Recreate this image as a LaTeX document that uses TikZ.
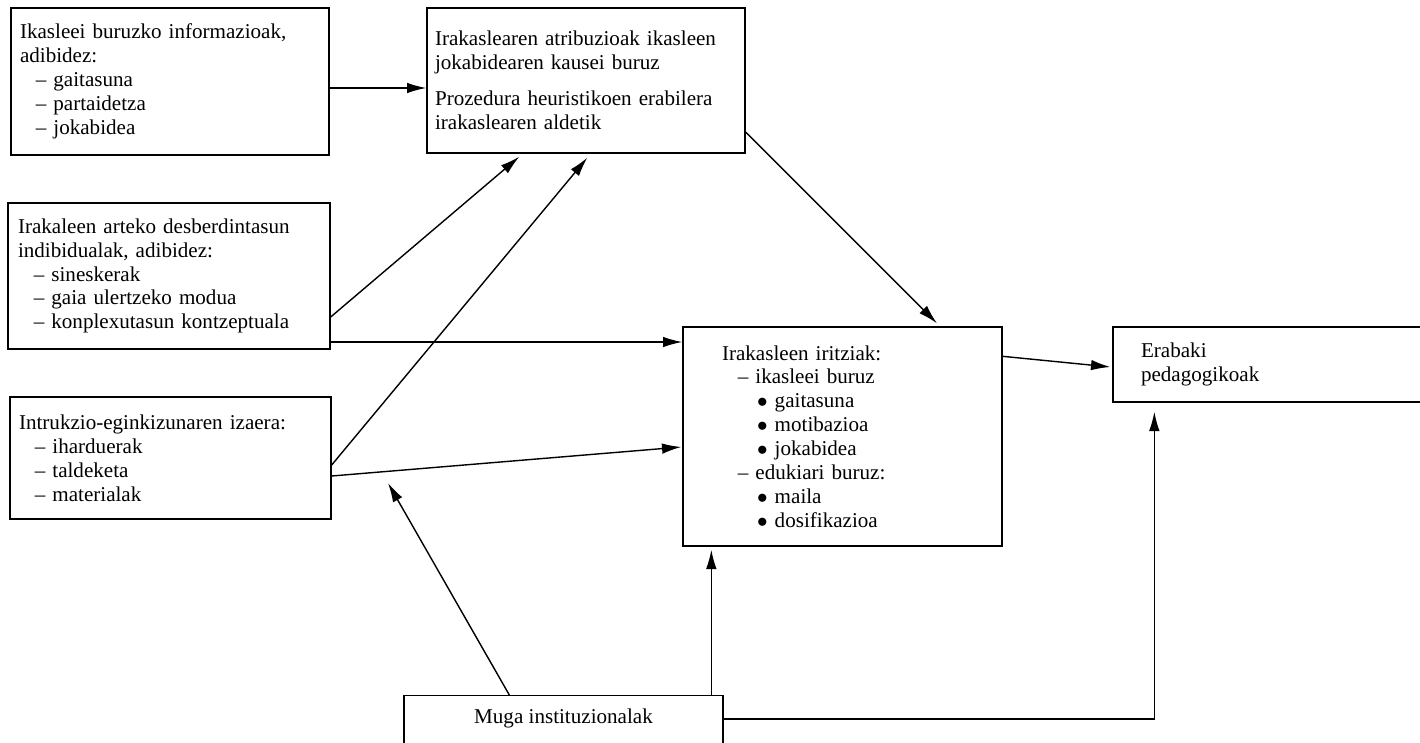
\documentclass[tikz,border=0pt]{standalone}
\usepackage{fontspec}
\setmainfont{Liberation Serif}
\usetikzlibrary{arrows.meta,calc}

\newcommand{\dashitem}{\hspace*{9pt}– }
\newcommand{\dotitem}{\hspace*{20pt}$\bullet$\ }

\begin{document}
\begin{tikzpicture}[
    x=0.02cm, y=-0.02cm,
    box/.style={draw, line width=0.8pt, align=left, inner ysep=0pt, font=\fontsize{12}{13.6}\selectfont},
    arr/.style={-{Latex[length=11pt,width=6pt]}, line width=0.8pt}
]
    \useasboundingbox (0,0) rectangle (1420,743);
    \clip (0,0) rectangle (1420,743);

    \node[box, minimum width=6.36cm, minimum height=2.94cm, inner xsep=0.18cm, text width=6cm] (info) at (170,81.5)
        {Ikasleei buruzko informazioak,\\adibidez:\\\dashitem gaitasuna\\\dashitem partaidetza\\\dashitem jokabidea};
    \node[box, minimum width=6.36cm, minimum height=2.9cm, inner xsep=0.16cm, text width=6.04cm] (attrib) at (586,80.5)
        {Irakaslearen atribuzioak ikasleen\\jokabidearen kausei buruz\\[7pt]Prozedura heuristikoen erabilera\\irakaslearen aldetik};
    \node[box, minimum width=6.44cm, minimum height=2.92cm, inner xsep=0.2cm, text width=6.04cm] (indiv) at (169,276)
        {Irakaleen arteko desberdintasun\\indibidualak, adibidez:\\\dashitem sineskerak\\\dashitem gaia ulertzeko modua\\\dashitem konplexutasun kontzeptuala};
    \node[box, minimum width=6.42cm, minimum height=2.44cm, inner xsep=0.18cm, text width=6.06cm] (task) at (170.5,458)
        {Intrukzio-eginkizunaren izaera:\\\dashitem iharduerak\\\dashitem taldeketa\\\dashitem materialak};
    \node[box, minimum width=6.38cm, minimum height=4.38cm, inner xsep=0.78cm, text width=4.82cm] (judg) at (842.5,436.5)
        {Irakasleen iritziak:\\\dashitem ikasleei buruz\\\dotitem gaitasuna\\\dotitem motibazioa\\\dotitem jokabidea\\\dashitem edukiari buruz:\\\dotitem maila\\\dotitem dosifikazioa};
    \node[box, minimum width=6.74cm, minimum height=1.5cm, inner xsep=0.56cm, text width=5.62cm] (decis) at (1281.5,364.5)
        {Erabaki\\pedagogikoak};
    \node[box, anchor=north, minimum width=6.38cm, align=center, inner xsep=0pt, text height=15.9pt, text depth=26pt] (limits) at (563.5,695)
        {Muga instituzionalak};

    \coordinate (a1) at ($(info.east)+(0,6.5)$);
    \draw[arr] (a1) -- (a1 -| attrib.west);
    \coordinate (c1) at ($(indiv.east)+(0,66)$);
    \draw[arr] (c1) -- (c1 -| judg.west);
    \draw[arr] ($(indiv.east)+(0,41)$) -- ($(attrib.south west)+(93,3)$);
    \draw[arr] ($(task.east)+(0,7)$) -- ($(attrib.south west)+(161,4)$);
    \draw[arr] ($(task.east)+(0,18)$) -- ($(judg.west)+(-1,10.5)$);
    \draw[arr] ($(attrib.east)+(0,51.5)$) -- ($(judg.north)+(94.5,-3)$);
    \draw[arr] ($(judg.north east)+(0,30)$) -- ($(decis.west)+(-2,2.5)$);

    \coordinate (gtip) at (388,483);
    \draw[arr] ($(limits.north west)+(106,0)$) -- (gtip);
    \coordinate (g1) at ($(limits.north west)+(308,0)$);
    \draw[arr] (g1) -- ($(g1 |- judg.south)+(0,3)$);
    \coordinate (g2) at ($(limits.north east)+(0,24)$);
    \coordinate (g3) at ($(decis.south west)+(42,9)$);
    \draw[arr] (g2) -| (g3);
\end{tikzpicture}
\end{document}
